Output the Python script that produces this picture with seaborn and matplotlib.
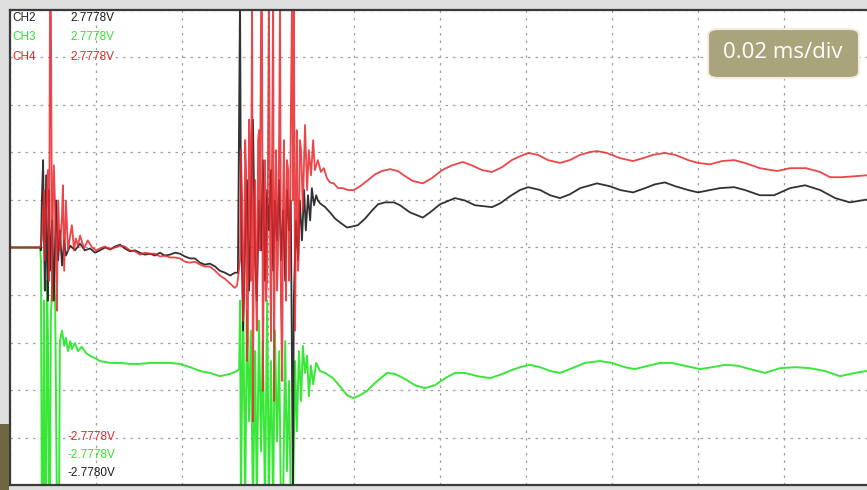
import numpy as np
import matplotlib
matplotlib.use("Agg")
import matplotlib.pyplot as plt
import seaborn as sns
from matplotlib.patches import FancyBboxPatch, Rectangle

# time in microseconds (0.02 ms/div -> 20 us/div); amplitude in screen divisions
ch2_t = [0, 7.0, 7.2, 7.4, 7.7, 7.9, 8.1, 8.4, 8.6, 8.8, 9.1, 9.3, 9.8, 10.2, 10.7, 11.2, 11.6, 12.1, 12.6, 13.0,
         14.0, 15.1, 16.3, 17.4, 18.6, 19.8, 20.9, 22.1, 23.3, 24.4, 25.6, 26.7, 27.9, 29.1, 30.2, 31.4, 32.6, 33.7,
         34.9, 36.0, 37.2, 38.4, 39.5, 40.7, 41.9, 43.0, 44.2, 45.3, 46.5, 47.7, 48.8, 50.0, 51.2, 52.3, 53.0,
         53.5, 53.7, 54.2, 54.7, 55.1, 55.6, 56.0, 56.5, 57.0, 57.4, 57.9, 58.4, 58.8, 59.3, 59.8, 60.2, 60.7, 61.2,
         61.6, 62.1, 62.6, 63.0, 63.5, 64.0, 64.4, 64.9, 65.3, 65.8, 66.0, 66.5, 67.0, 67.4, 67.9, 68.4, 68.8, 69.3,
         69.8, 70.2, 70.7, 71.2, 71.6, 72.1, 73.3, 74.4, 75.6, 76.7, 78.4, 79.5, 80.9, 82.6, 84.2, 85.6, 87.2, 89.3,
         90.7, 93.0, 96.0, 97.7, 100.0, 103.5, 105.8, 108.1, 112.1, 114.0, 116.3, 118.6, 120.5, 123.3, 125.6, 127.9,
         130.2, 132.6, 136.5, 139.5, 141.9, 144.9, 147.7, 150.0, 152.3, 154.7, 157.7, 160.0, 162.8, 165.1, 168.4,
         170.9, 174.4, 177.7, 181.4, 184.9, 188.4, 191.9, 195.3, 199.3]
ch2_v = [0, 0, -0.06, 0.99, 1.84, 0.36, -0.91, 1.52, -0.27, -1.12, 1.21, -0.49, 0.57, -1.12, 0.99, -0.27, 0.36, -0.38,
         0.15, -0.17, 0.04, -0.06, 0.08, -0.06, -0.02, -0.11, -0.06, 0, -0.04, 0.02, 0.06, -0.02, -0.08, -0.06, -0.11,
         -0.15, -0.13, -0.17, -0.11, -0.17, -0.15, -0.11, -0.13, -0.19, -0.23, -0.23, -0.32, -0.36, -0.34, -0.40,
         -0.49, -0.53, -0.59, -0.53, -0.53,
         5.4, 0.99, -1.75, 0.15, 1.42, -0.91, 0.78, 2.69, -0.27, -1.12, 0.99, -0.06, 1.84, -0.70, 1.21, 0.36, 1.63,
         -0.49, 0.99, 0.15, 1.42, -0.27, 0.78, -0.70, 1.21, 0.36, 0.99, -5.4, -1.12, 0.57, -0.27, 0.99, 0.15, 1.21,
         0.36, 1.10, 0.57, 1.25, 0.89, 1.10, 0.99, 0.93, 0.85, 0.74, 0.61, 0.53, 0.42, 0.44, 0.47, 0.61, 0.78, 0.91,
         0.95, 0.95, 0.89, 0.74, 0.63, 0.74, 0.91, 1.04, 0.99, 0.89, 0.85, 0.93, 1.08, 1.21, 1.27, 1.21, 1.10, 1.04,
         1.12, 1.25, 1.35, 1.29, 1.21, 1.16, 1.25, 1.33, 1.37, 1.29, 1.21, 1.16, 1.21, 1.25, 1.27, 1.21, 1.10, 1.10,
         1.25, 1.31, 1.21, 1.04, 0.95, 1.01]

ch4_t = [0, 7.0, 7.4, 7.9, 8.1, 8.4, 8.8, 9.1, 9.3, 9.5, 9.8, 10.0, 10.2, 10.7, 10.9, 11.2, 11.6, 12.1, 12.3, 12.6,
         13.0, 13.5, 14.0, 14.4, 14.9, 15.3, 15.8, 16.3, 17.2, 18.1, 19.1, 20.0, 20.9, 22.1, 23.3, 24.4, 25.6, 26.7,
         27.9, 29.1, 30.2, 31.4, 32.6, 33.7, 34.9, 36.0, 37.2, 38.4, 39.5, 40.7, 41.9, 43.0, 44.2, 45.3, 46.5, 47.7,
         48.8, 50.0, 51.2, 52.3, 52.8,
         53.5, 53.7, 54.0, 54.2, 54.4, 54.7, 54.9, 55.1, 55.3, 55.6, 55.8, 56.0, 56.3, 56.5, 56.7, 57.0, 57.2, 57.4,
         57.7, 57.9, 58.1, 58.4, 58.6, 58.8, 59.1, 59.3, 59.5, 59.8, 60.0, 60.2, 60.5, 60.7, 60.9, 61.2, 61.4, 61.6,
         61.9, 62.1, 62.3, 62.6, 62.8, 63.0, 63.3, 63.5, 63.7, 64.0, 64.2, 64.4, 64.7, 64.9, 65.1, 65.3, 65.6, 65.8,
         66.0, 66.3, 66.5, 66.7, 67.0, 67.2, 67.4,
         67.7, 68.1, 68.6, 69.1, 69.5, 70.0, 70.5, 70.9, 71.6, 72.3, 73.0, 73.7, 74.4, 75.3, 76.3, 77.4, 78.6, 80.0,
         81.4, 83.0, 84.9, 86.5, 88.4, 90.2, 91.9, 93.7, 96.0, 98.1, 100.5, 102.8, 105.3, 107.4, 109.8, 112.1, 114.4,
         116.7, 118.6, 120.5, 122.8, 125.1, 127.9, 130.2, 132.6, 134.9, 136.5, 138.8, 141.9, 144.9, 147.2, 149.5,
         152.3, 154.7, 157.7, 160.0, 162.8, 165.6, 168.4, 170.9, 174.4, 178.4, 181.4, 185.1, 188.4, 190.7, 193.5,
         196.5, 199.3]
ch4_v = [0, 0, 0.15, 1.21, -0.27, 0.78, 1.63, -0.70, 5.4, 5.4, -1.12, 0.99, 1.73, 0.15, -1.33, 0.99, -0.06, 0.68,
         1.31, -0.49, 0.99, -0.06, 0.25, 0.47, -0.06, 0.19, 0.04, 0.25, -0.02, 0.15, 0, -0.06, -0.02, 0.02, -0.04, 0,
         0.04, 0.02, -0.06, -0.08, -0.15, -0.11, -0.13, -0.13, -0.19, -0.17, -0.21, -0.21, -0.23, -0.30, -0.32,
         -0.30, -0.36, -0.40, -0.40, -0.49, -0.59, -0.66, -0.76, -0.85, -0.80,
         -0.27, 2.05, 0.99, -1.54, -1.12, 2.26, 1.63, -2.39, -1.97, 2.69, 2.05, -0.70, 5.4, -3.66, 0.36, 1.42, -0.91,
         -1.75, 2.26, 2.47, -0.06, 5.4, 5.4, -3.02, 0.99, 1.84, -1.12, -0.70, 2.05, 5.4, -0.06, -1.97, 1.42, 5.4,
         -3.23, 0.57, 2.05, -0.91, -0.27, 2.47, 5.4, -1.12, -2.81, 0.99, 2.26, -0.06, -1.12, 1.84, 1.63, -0.70,
         -0.27, 2.69, 5.4, 0.99, 5.4, -1.75, 0.57, 2.47, -0.49, 0.15, 2.26,
         2.05, 0.78, 2.58, 1.21, 2.05, 1.52, 2.26, 1.63, 1.84, 1.59, 1.67, 1.46, 1.37, 1.35, 1.25, 1.25, 1.21, 1.21,
         1.29, 1.40, 1.54, 1.61, 1.65, 1.61, 1.50, 1.40, 1.35, 1.46, 1.63, 1.73, 1.80, 1.73, 1.63, 1.59, 1.69, 1.84,
         1.92, 1.99, 1.95, 1.84, 1.78, 1.84, 1.95, 2.01, 2.03, 1.99, 1.88, 1.82, 1.88, 1.95, 1.99, 1.95, 1.84, 1.78,
         1.75, 1.82, 1.84, 1.78, 1.67, 1.61, 1.67, 1.67, 1.59, 1.48, 1.48, 1.50, 1.52]

ch3_t = [0, 7.0, 7.2, 7.4, 7.7, 7.9, 8.1, 8.4, 8.6, 8.8, 9.1, 9.3, 9.5, 10.0, 10.5, 10.9, 11.2, 11.4, 11.6, 12.1,
         12.6, 13.0, 13.5, 14.0, 14.4, 15.1, 15.8, 16.7, 17.7, 18.6, 19.8, 20.9, 23.3, 25.6, 27.9, 30.2, 32.6, 34.9,
         37.2, 39.5, 41.9, 44.2, 46.5, 48.8, 51.2, 52.8, 53.3,
         53.5, 53.7, 54.2, 54.7, 55.1, 55.6, 56.0, 56.5, 57.0, 57.4, 57.9, 58.4, 58.8, 59.3, 59.8, 60.2, 60.7, 61.2,
         61.6, 62.1, 62.6, 63.0, 63.5, 64.0, 64.4, 64.9, 65.3, 65.8, 66.3, 66.7, 67.2, 67.7, 68.1, 68.6, 69.1, 69.5,
         70.0, 70.5, 71.2, 72.1, 73.3, 75.1, 76.7, 78.4, 79.8, 81.4, 83.0, 84.9, 87.7, 89.5, 91.9, 94.2, 96.5, 98.8,
         101.2, 103.5, 105.8, 108.8, 111.6, 114.0, 116.7, 118.6, 120.9, 123.3, 125.6, 127.9, 130.2, 133.7, 137.2,
         140.0, 143.0, 145.3, 148.4, 151.2, 153.9, 157.0, 160.5, 163.3, 166.3, 169.3, 172.1, 175.6, 179.1, 182.6,
         186.0, 189.5, 193.0, 196.5, 199.3]
ch3_v = [0, 0, -0.27, -5.4, -5.4, -1.12, -5.4, -5.4, -0.70, -1.75, -5.4, -5.4, -1.54, -0.27, -1.12, -5.4, -5.4, -5.4,
         -1.97, -1.75, -2.07, -1.90, -2.18, -1.97, -2.14, -2.01, -2.18, -2.09, -2.22, -2.28, -2.33, -2.39, -2.43,
         -2.43, -2.45, -2.45, -2.43, -2.43, -2.43, -2.45, -2.52, -2.60, -2.64, -2.71, -2.66, -2.60, -2.56,
         -1.12, -5.4, -0.91, -5.4, -1.33, -3.66, -1.75, -5.4, -2.18, -5.4, -1.54, -4.29, -1.97, -5.4, -1.12, -5.4,
         -2.39, -5.4, -1.75, -4.08, -2.18, -5.4, -5.4, -1.97, -4.71, -2.81, -5.4, -5.4, -2.39, -3.87, -2.18, -3.23,
         -2.07, -2.64, -2.28, -3.13, -2.49, -2.88, -2.43, -2.60, -2.64, -2.75, -2.92, -3.11, -3.17, -3.11, -3.02,
         -2.85, -2.64, -2.66, -2.77, -2.90, -2.96, -2.90, -2.75, -2.64, -2.64, -2.71, -2.75, -2.68, -2.58, -2.52,
         -2.47, -2.52, -2.60, -2.64, -2.56, -2.43, -2.39, -2.43, -2.52, -2.56, -2.49, -2.43, -2.43, -2.49, -2.56,
         -2.52, -2.47, -2.49, -2.56, -2.64, -2.54, -2.52, -2.54, -2.60, -2.71, -2.64, -2.60]

channel_names = ["CH2", "CH3", "CH4"]
upper_labels = ["2.7778V", "2.7778V", "2.7778V"]
lower_labels = ["-2.7778V", "-2.7778V", "-2.7780V"]
timebase_label = "0.02 ms/div"

C_BLACK = "#1c1c1c"
C_GREEN = "#2ee62e"
C_RED = "#e8262a"

sns.set_theme(style="white")
W, H = 867, 490
fig = plt.figure(figsize=(W / 100, H / 100), dpi=100)
fig.patch.set_facecolor("#dedede")

ax = fig.add_axes([10 / W, 5 / H, 860 / W, 475 / H])
ax.set_facecolor("white")
ax.set_xlim(0, 200)
ax.set_ylim(-5, 5)
ax.set_xticks(np.arange(0, 201, 20))
ax.set_yticks(np.arange(-5, 6, 1))
ax.tick_params(length=0, labelbottom=False, labelleft=False)
ax.grid(True, color="#a0a0a0", linestyle=(0, (2, 4)), linewidth=0.9)
ax.set_axisbelow(True)
for s in ax.spines.values():
    s.set_color("#3a3a3a")
    s.set_linewidth(1.6)

sns.lineplot(x=ch3_t, y=ch3_v, ax=ax, color=C_GREEN, linewidth=1.4, sort=False, estimator=None, alpha=0.95)
sns.lineplot(x=ch2_t, y=ch2_v, ax=ax, color=C_BLACK, linewidth=1.3, sort=False, estimator=None, alpha=0.9)
sns.lineplot(x=ch4_t, y=ch4_v, ax=ax, color=C_RED, linewidth=1.3, sort=False, estimator=None, alpha=0.85)
ax.set_xlabel("")
ax.set_ylabel("")

lab_font = ["Liberation Sans", "DejaVu Sans"]
cols = ["#2a2238", C_GREEN, C_RED]
for i, (name, up) in enumerate(zip(channel_names, upper_labels)):
    y = 1 - (18 + 19.5 * i) / H
    fig.text(12 / W, y, name, color=cols[i], fontsize=8.5, family=lab_font, va="center", ha="left")
    fig.text(70 / W, y, up, color=C_BLACK if i == 0 else cols[i], fontsize=8.5, family=lab_font,
             va="center", ha="left")
low_cols = [C_RED, C_GREEN, C_BLACK]
for i, lab in enumerate(lower_labels):
    y = 1 - (437 + 18 * i) / H
    fig.text(68 / W, y, lab, color=low_cols[i], fontsize=8.5, family=lab_font, va="center", ha="left")

# timebase badge
box = FancyBboxPatch((708 / W, 1 - 78 / H), 151 / W, 49 / H,
                     boxstyle="round,pad=0,rounding_size=0.012",
                     transform=fig.transFigure, facecolor="#a9a47c", edgecolor="#f1eedf",
                     linewidth=1.5, zorder=10)
fig.patches.append(box)
fig.text(783 / W, 1 - 53 / H, timebase_label, color="white", fontsize=16,
         family=["Open Sans", "DejaVu Sans"], ha="center", va="center", zorder=11)

# decorative corner
fig.patches.append(Rectangle((0, 0), 9 / W, 66 / H, transform=fig.transFigure,
                             facecolor="#6f6644", edgecolor="none", zorder=5))

fig.savefig("out.png", dpi=100, facecolor=fig.get_facecolor())
